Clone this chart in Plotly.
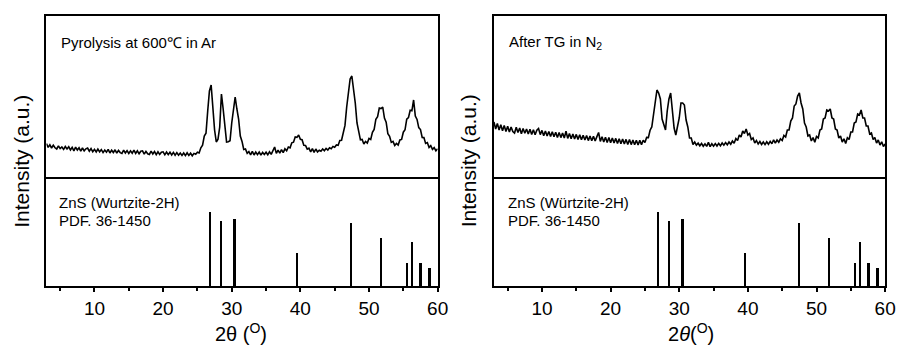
import numpy as np
import plotly.graph_objects as go

# ---------------- data ----------------
# 2-theta grid: 3.00 .. 60.00 deg, 0.25 deg steps (4 readings per degree)
ar_intensity = [
    335, 296, 322, 290,  318, 292, 280, 312,  284, 300, 276, 305,  280, 302, 271, 296,   # 3-6
    262, 298, 270, 292,  258, 290, 262, 282,  289, 258, 284, 252,  276, 250, 280, 252,   # 7-10
    274, 244, 270, 248,  276, 240, 268, 245,  272, 238, 266, 244,  236, 268, 240, 264,   # 11-14
    236, 262, 238, 268,  236, 262, 232, 258,  262, 228, 256, 232,  226, 258, 230, 254,   # 15-18
    224, 252, 226, 248,  252, 222, 250, 224,  248, 220, 246, 218,  244, 218, 240, 216,   # 19-22
    240, 214, 242, 216,  238, 212, 236, 228,  248, 240, 292, 318,  410, 438, 660, 860,   # 23-26
    920, 660, 470, 350,  378, 500, 830, 680,  500, 350, 352, 362,  540, 670, 800, 680,   # 27-30
    580, 410, 356, 275,  280, 236, 254, 222,  256, 220, 250, 224,  250, 218, 246, 226,   # 31-34
    248, 222, 252, 226,  256, 300, 236, 268,  238, 274, 244, 282,  262, 300, 292, 342,   # 35-38
    348, 400, 396, 420,  376, 372, 318, 316,  278, 288, 252, 284,  246, 280, 250, 268,   # 39-42
    258, 280, 262, 286,  270, 292, 282, 306,  298, 320, 316, 366,  368, 446, 516, 700,   # 43-46
    830, 980, 1010, 880, 740, 540, 456, 372,  376, 330, 356, 340,  386, 376, 446, 476,   # 47-50
    578, 604, 690, 684,  700, 590, 548, 432,  406, 346, 356, 316,  336, 320, 370, 376,   # 51-54
    448, 472, 578, 594,  668, 662, 770, 610,  576, 494, 474, 396,  394, 336, 344, 296,   # 55-58
    314, 276, 294, 262,  282,                                                            # 59-60
]
n2_intensity = [
    550, 480, 535, 470,  522, 462, 515, 455,  508, 450, 500, 455,  440, 498, 445, 490,   # 3-6
    432, 485, 438, 480,  430, 478, 425, 472,  422, 468, 485, 424,  466, 412, 460, 410,   # 7-10
    455, 404, 452, 402,  448, 396, 446, 394,  440, 390, 458, 386,  434, 382, 430, 380,   # 11-14
    426, 376, 422, 372,  418, 370, 414, 364,  410, 362, 408, 360,  404, 445, 356, 402,   # 15-18
    350, 398, 346, 394,  342, 390, 340, 386,  336, 382, 332, 380,  330, 376, 326, 374,   # 19-22
    324, 370, 322, 368,  320, 366, 324, 368,  346, 396, 394, 468,  500, 640, 740, 870,   # 23-26
    840, 780, 580, 520,  470, 660, 780, 840,  620, 490, 420, 520,  590, 740, 740, 720,   # 27-30
    570, 500, 390, 390,  325, 350, 318, 338,  312, 335, 308, 332,  306, 346, 304, 332,   # 31-34
    308, 334, 310, 336,  312, 340, 318, 344,  322, 350, 328, 360,  338, 385, 365, 420,   # 35-38
    400, 460, 435, 480,  420, 435, 375, 390,  340, 365, 330, 355,  325, 350, 324, 352,   # 39-42
    328, 356, 332, 372,  338, 370, 348, 382,  365, 415, 400, 470,  470, 560, 590, 710,   # 43-46
    730, 810, 840, 740,  680, 540, 500, 410,  420, 360, 395, 348,  405, 390, 470, 480,   # 47-50
    580, 590, 670, 660,  680, 590, 580, 480,  470, 390, 410, 350,  382, 335, 392, 375,   # 51-54
    450, 450, 540, 550,  630, 620, 670, 590,  590, 510, 510, 430,  440, 375, 395, 340,   # 55-58
    370, 320, 352, 305,  330,                                                            # 59-60
]
two_theta_start = 3.0
two_theta_step = 0.25

# ZnS wurtzite-2H reference, PDF 36-1450
pdf_positions = [26.9, 28.5, 30.5, 39.6, 47.5, 51.8, 55.6, 56.4, 57.6, 58.9]
pdf_intensity = [100, 88, 90, 45, 85, 65, 31, 59, 31, 24]

x_ticks = [10, 20, 30, 40, 50, 60]
x_minor_ticks = [5, 15, 25, 35, 45, 55]

ar_label = "Pyrolysis at 600℃ in Ar"
n2_label = "After TG in N<sub>2</sub>"
ref_label_left = "ZnS (Wurtzite-2H)"
ref_label_right = "ZnS (Würtzite-2H)"
pdf_label = "PDF. 36-1450"

# ---------------- figure ----------------
W, H = 907, 347
FONT = "Liberation Sans, Arial, sans-serif"

def px_x(p):
    return p / W

def px_y(p):
    return 1 - p / H

tt_ar = two_theta_start + two_theta_step * np.arange(len(ar_intensity))
tt_n2 = two_theta_start + two_theta_step * np.arange(len(n2_intensity))

fig = go.Figure()

fig.add_trace(go.Scatter(x=tt_ar, y=ar_intensity, mode="lines",
                         line=dict(color="black", width=1.6), xaxis="x", yaxis="y",
                         showlegend=False))
fig.add_trace(go.Bar(x=pdf_positions, y=pdf_intensity, width=0.26,
                     marker=dict(color="black", line=dict(width=0)),
                     xaxis="x2", yaxis="y2", showlegend=False))
fig.add_trace(go.Scatter(x=tt_n2, y=n2_intensity, mode="lines",
                         line=dict(color="black", width=1.6), xaxis="x3", yaxis="y3",
                         showlegend=False))
fig.add_trace(go.Bar(x=pdf_positions, y=pdf_intensity, width=0.26,
                     marker=dict(color="black", line=dict(width=0)),
                     xaxis="x4", yaxis="y4", showlegend=False))

left_dom = [px_x(47), px_x(443)]
right_dom = [px_x(500), px_x(896)]
top_dom = [px_y(177), px_y(16)]
bot_dom = [px_y(286), px_y(177)]

def top_x(dom, anchor):
    # draws both the top frame edge and the divider line
    return dict(domain=dom, anchor=anchor, range=[3, 60], showline=True, mirror=True,
                linecolor="black", linewidth=2, ticks="", showticklabels=False,
                showgrid=False, zeroline=False)

def bot_x(dom, anchor):
    # bottom frame edge only (divider is drawn by the top panel)
    return dict(domain=dom, anchor=anchor, range=[3, 60], showline=True, mirror=False,
                linecolor="black", linewidth=2, ticks="outside", ticklen=4, tickwidth=1.5,
                tickcolor="black", tickvals=x_ticks, ticktext=[str(v) for v in x_ticks],
                tickfont=dict(family=FONT, size=19, color="black"),
                minor=dict(ticks="outside", ticklen=3, tickwidth=1.5, tickcolor="black",
                           tickvals=x_minor_ticks),
                showgrid=False, zeroline=False)

def yax(dom, anchor, rng):
    return dict(domain=dom, anchor=anchor, range=rng, showline=True, mirror=True,
                linecolor="black", linewidth=2, ticks="", showticklabels=False,
                showgrid=False, zeroline=False)

fig.update_layout(
    width=W, height=H,
    margin=dict(l=0, r=0, t=0, b=0),
    paper_bgcolor="white", plot_bgcolor="white",
    bargap=0,
    xaxis=top_x(left_dom, "y"),
    yaxis=yax(top_dom, "x", [0, 1610]),
    xaxis2=bot_x(left_dom, "y2"),
    yaxis2=yax(bot_dom, "x2", [0, 147]),
    xaxis3=top_x(right_dom, "y3"),
    yaxis3=yax(top_dom, "x3", [0, 1610]),
    xaxis4=bot_x(right_dom, "y4"),
    yaxis4=yax(bot_dom, "x4", [0, 147]),
)

ann_font = dict(family=FONT, size=15, color="black")
title_font = dict(family=FONT, size=21, color="black")
xt_font = dict(family=FONT, size=20, color="black")

annotations = [
    dict(text=ar_label, x=px_x(60), y=px_y(42), xanchor="left", yanchor="middle", font=ann_font),
    dict(text=n2_label, x=px_x(513), y=px_y(42), xanchor="left", yanchor="middle", font=ann_font),
    dict(text=ref_label_left, x=px_x(58), y=px_y(202), xanchor="left", yanchor="middle", font=ann_font),
    dict(text=pdf_label, x=px_x(58), y=px_y(220), xanchor="left", yanchor="middle", font=ann_font),
    dict(text=ref_label_right, x=px_x(512), y=px_y(202), xanchor="left", yanchor="middle", font=ann_font),
    dict(text=pdf_label, x=px_x(512), y=px_y(220), xanchor="left", yanchor="middle", font=ann_font),
    dict(text="Intensity (a.u.)", x=px_x(22), y=px_y(161), textangle=-90,
         xanchor="center", yanchor="middle", font=title_font),
    dict(text="Intensity (a.u.)", x=px_x(475), y=px_y(161), textangle=-90,
         xanchor="center", yanchor="middle", font=title_font),
    dict(text="2θ (<sup>O</sup>)", x=px_x(244), y=px_y(332),
         xanchor="center", yanchor="middle", font=xt_font),
    dict(text="2<i>θ</i>(<sup>O</sup>)", x=px_x(699), y=px_y(332),
         xanchor="center", yanchor="middle", font=xt_font),
]
for a in annotations:
    a.update(xref="paper", yref="paper", showarrow=False)
fig.update_layout(annotations=annotations)

fig.write_html("out.html")
